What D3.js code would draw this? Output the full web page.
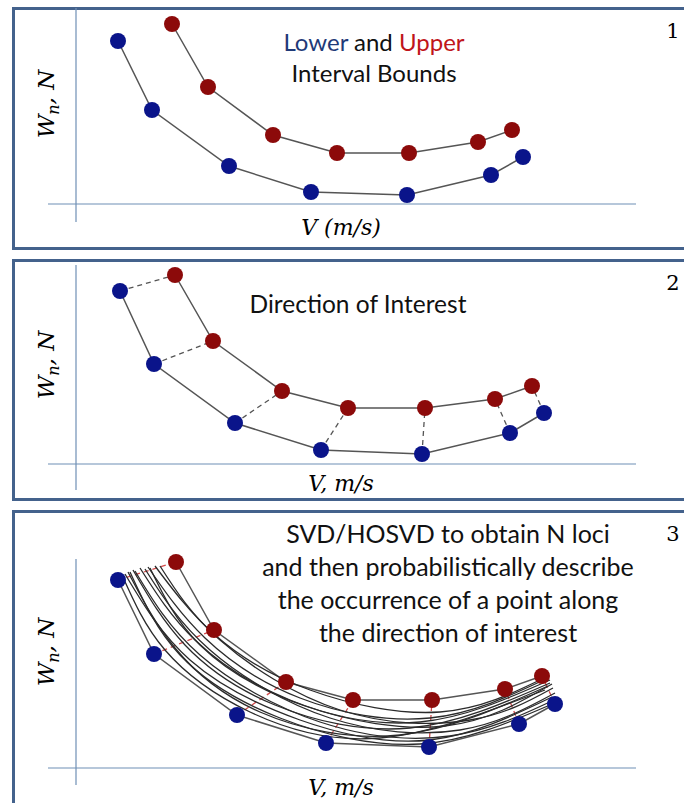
<!DOCTYPE html>
<meta charset="utf-8">
<title>Interval bounds and loci</title>
<style>
  body { margin: 0; background: #fff; }
  svg { display: block; }
  .num { font-family: "DejaVu Serif", "Liberation Serif", serif; }
  .lab { font-family: "DejaVu Serif", "Liberation Serif", serif; font-style: italic; }
  .txt { font-family: Lato, "Open Sans", sans-serif; }
</style>
<body>
<script src="https://cdn.jsdelivr.net/npm/d3@7"></script>
<script>

// lower / upper bounds, V in m/s, W in N (per panel)
var lowV1 = [2.1, 3.8, 7.65, 11.75, 16.55, 20.75, 22.35],
    lowW1 = [81.5, 47, 19, 6, 4.5, 14.5, 23.5],
    upV1  = [4.8, 6.6, 9.85, 13.05, 16.65, 20.1, 21.8],
    upW1  = [90, 58.5, 34.5, 25.5, 25.5, 31, 37];

var lowV2 = [2.2, 3.9, 7.95, 12.25, 17.3, 21.7, 23.4],
    lowW2 = [86.5, 50, 20.5, 7, 5, 15.5, 25.5],
    upV2  = [4.95, 6.85, 10.3, 13.6, 17.45, 20.95, 22.8],
    upW2  = [94.5, 61.5, 36.5, 28, 28, 32.5, 39];

var lowV3 = [2.1, 3.9, 8.05, 12.5, 17.65, 22.15, 23.95],
    lowW3 = [94, 57, 26.5, 12.5, 10.5, 22, 32],
    upV3  = [5.0, 6.9, 10.5, 13.85, 17.8, 21.45, 23.3],
    upW3  = [103, 69, 43, 34, 34, 39.5, 46];

// N loci from SVD/HOSVD (panel 3), [V, W] pairs
var loci = [
  [[2.3, 96.5], [4.45, 59], [8.7, 28], [15.2, 15], [23.45, 39]],
  [[2.6, 98], [4.95, 60], [9.2, 28], [16.2, 16.5], [23.6, 41]],
  [[2.85, 99], [5.45, 61.5], [9.95, 31.5], [16.7, 20], [23.7, 42.5]],
  [[3.2, 100], [5.95, 64], [10.7, 34], [17.2, 23], [23.7, 44]],
  [[3.6, 100.5], [6.45, 65], [11.2, 35], [17.7, 25], [23.6, 45]],
  [[3.95, 101], [6.95, 66.5], [11.7, 39], [18.2, 28], [23.5, 45.5]],
  [[2.45, 97], [5.7, 54], [11.2, 24], [17.7, 14], [23.8, 35.5]],
  [[2.95, 98.5], [6.2, 56.5], [12.2, 23], [18.7, 16], [23.9, 34]],
  [[3.45, 99.5], [6.7, 59], [12.7, 25], [19.2, 19], [23.95, 37.5]],
  [[4.2, 101], [7.2, 64], [13.2, 29], [19.7, 24], [23.85, 40]],
  [[2.7, 98], [5.2, 56.5], [10.2, 25], [17.2, 12], [23.7, 31.5]],
  [[3.7, 100], [6.2, 61.5], [11.45, 31], [18.45, 21], [23.8, 42]]
];

var titles1 = ["Interval Bounds"],
    titles2 = ["Direction of Interest"],
    titles3 = ["SVD/HOSVD to obtain N loci", "and then probabilistically describe",
               "the occurrence of a point along", "the direction of interest"];

var width = 684, height = 803;
var blue = "#0a148a", red = "#8c0a0a", border = "#44628c", axisCol = "#6f8fb5";

var svg = d3.select("body").append("svg")
    .attr("width", width)
    .attr("height", height);

var x = d3.scaleLinear().domain([0, 28]).range([76, 636]);

function zip(a, b) { return a.map(function(d, i) { return [d, b[i]]; }); }

function panel(opt) {
    var g = svg.append("g");
    var y = d3.scaleLinear().domain([0, 100]).range([opt.oy, opt.oy - 200]);

    g.append("rect")
        .attr("x", 13.5).attr("y", opt.top)
        .attr("width", 700).attr("height", opt.h)
        .attr("fill", "#fff").attr("stroke", border).attr("stroke-width", 3);

    // axes (plain cross, no ticks)
    g.append("line")
        .attr("x1", x(-1.4)).attr("x2", x(28))
        .attr("y1", y(0)).attr("y2", y(0))
        .attr("stroke", axisCol).attr("stroke-width", 1.2);
    g.append("line")
        .attr("x1", x(0)).attr("x2", x(0))
        .attr("y1", opt.axTop).attr("y2", opt.axBot)
        .attr("stroke", axisCol).attr("stroke-width", 1.2);

    g.append("text").attr("class", "lab")
        .attr("x", 341).attr("y", opt.xlabY)
        .attr("text-anchor", "middle").attr("font-size", 22)
        .text(opt.xlab);

    var yl = g.append("text").attr("class", "lab")
        .attr("transform", "translate(54," + opt.ylabY + ") rotate(-90)")
        .attr("text-anchor", "middle").attr("font-size", 23);
    yl.append("tspan").text("W");
    yl.append("tspan").attr("font-size", 16).attr("dy", 5).text("n");
    yl.append("tspan").attr("dy", -5).text(", N");

    g.append("text").attr("class", "num")
        .attr("x", 673).attr("y", opt.top + 29)
        .attr("text-anchor", "middle").attr("font-size", 21)
        .text(opt.num);

    var lower = zip(opt.lowV, opt.lowW), upper = zip(opt.upV, opt.upW);
    var line = d3.line().x(function(d) { return x(d[0]); }).y(function(d) { return y(d[1]); });

    if (opt.dash) {
        g.selectAll(".dir").data(lower).enter().append("line")
            .attr("x1", function(d) { return x(d[0]); })
            .attr("y1", function(d) { return y(d[1]); })
            .attr("x2", function(d, i) { return x(upper[i][0]); })
            .attr("y2", function(d, i) { return y(upper[i][1]); })
            .attr("stroke", opt.dash).attr("stroke-width", 1.3)
            .attr("stroke-dasharray", "5,4");
    }

    [lower, upper].forEach(function(s) {
        g.append("path").attr("d", line(s))
            .attr("fill", "none").attr("stroke", "#555").attr("stroke-width", 1.5);
    });

    if (opt.loci) {
        var curve = d3.line().curve(d3.curveNatural)
            .x(function(d) { return x(d[0]); }).y(function(d) { return y(d[1]); });
        g.selectAll(".locus").data(opt.loci).enter().append("path")
            .attr("d", curve)
            .attr("fill", "none").attr("stroke", "#2b2b2b").attr("stroke-width", 1.3);
    }

    g.selectAll(".lo").data(lower).enter().append("circle")
        .attr("cx", function(d) { return x(d[0]); })
        .attr("cy", function(d) { return y(d[1]); })
        .attr("r", 8).attr("fill", blue);
    g.selectAll(".up").data(upper).enter().append("circle")
        .attr("cx", function(d) { return x(d[0]); })
        .attr("cy", function(d) { return y(d[1]); })
        .attr("r", 8).attr("fill", red);

    return g;
}

var g1 = panel({ top: 8.5, h: 240, oy: 204, axTop: 8, axBot: 222, xlabY: 235, ylabY: 104,
    xlab: "V (m/s)", num: "1", lowV: lowV1, lowW: lowW1, upV: upV1, upW: upW1 });
var t1 = g1.append("text").attr("class", "txt")
    .attr("x", 374).attr("y", 51).attr("text-anchor", "middle").attr("font-size", 24);
t1.append("tspan").attr("fill", "#1f3a78").text("Lower");
t1.append("tspan").attr("fill", "#111").text(" and ");
t1.append("tspan").attr("fill", "#c0151a").text("Upper");
g1.selectAll(".t").data(titles1).enter().append("text").attr("class", "txt")
    .attr("x", 374).attr("y", 82).attr("text-anchor", "middle").attr("font-size", 24)
    .attr("fill", "#111").text(function(d) { return d; });

var g2 = panel({ top: 260.5, h: 239, oy: 464, axTop: 265, axBot: 490, xlabY: 491, ylabY: 365,
    xlab: "V, m/s", num: "2", lowV: lowV2, lowW: lowW2, upV: upV2, upW: upW2, dash: "#555" });
g2.selectAll(".t").data(titles2).enter().append("text").attr("class", "txt")
    .attr("x", 358).attr("y", 313).attr("text-anchor", "middle").attr("font-size", 24.5)
    .attr("fill", "#111").text(function(d) { return d; });

var g3 = panel({ top: 511.5, h: 320, oy: 768, axTop: 559, axBot: 785, xlabY: 795, ylabY: 652,
    xlab: "V, m/s", num: "3", lowV: lowV3, lowW: lowW3, upV: upV3, upW: upW3, dash: "#d24a4a",
    loci: loci });
g3.selectAll(".t").data(titles3).enter().append("text").attr("class", "txt")
    .attr("x", 448).attr("y", function(d, i) { return 543 + i * 33; })
    .attr("text-anchor", "middle").attr("font-size", 25)
    .attr("fill", "#111").text(function(d) { return d; });

</script>
